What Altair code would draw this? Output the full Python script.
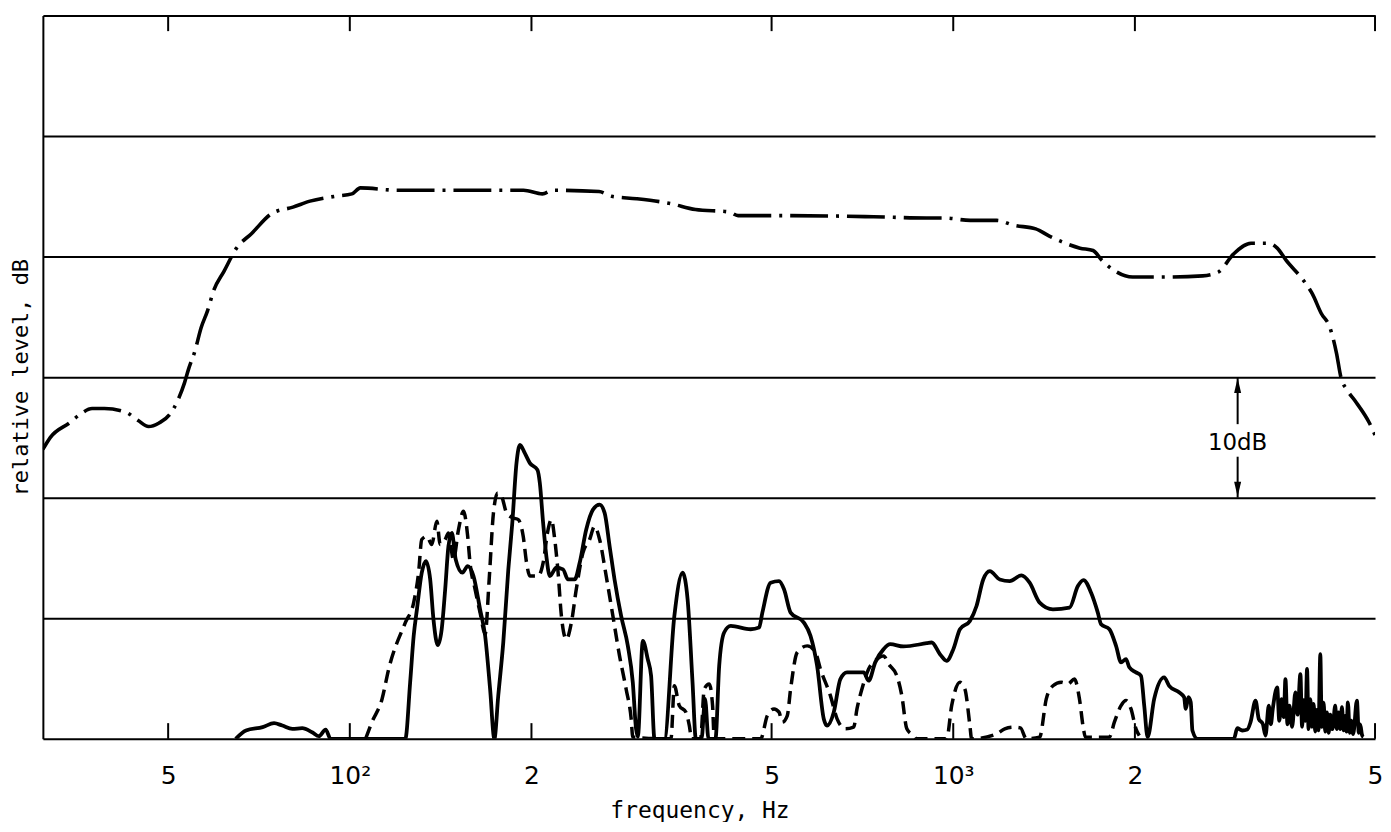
import altair as alt
import pandas as pd

# ---------------- axis definitions ----------------
tick_values = [50, 100, 200, 500, 1000, 2000, 5000]
tick_labels = ["5", "10²", "2", "5", "10³", "2", "5"]
grid_levels = [10, 20, 30, 40, 50, 60]

# ---------------- dash-dot curve (upper spectrum) ----------------
upper_freq = [31, 31.9, 34.3, 35.7, 37.4, 39.2, 42.5, 44.6, 46.4, 48.3,
              50.3, 51.9, 53.2, 54.0, 55.4, 56.7, 58.1, 59.5, 61.9, 64.9,
              68.7, 74.4, 80.5, 85.9, 94.5, 100.8, 104.1, 120.2, 152.7, 194,
              208.5, 217, 258.8, 271.6, 298.7, 339.6, 373.9, 425.3, 439.9, 528.4,
              738, 902.5, 965.6, 1067, 1180, 1260, 1370, 1443, 1517, 1622,
              1705, 1763, 1854, 1983, 2192, 2591, 2747, 2913, 3115, 3331,
              3443, 3560, 3808, 3937, 4071, 4210, 4316, 4389, 4500, 4654,
              4894, 5000]
upper_db = [24.0, 25.0, 26.2, 26.9, 27.4, 27.4, 27.1, 26.4, 25.9, 26.2,
            26.9, 28.1, 29.5, 30.6, 32.2, 34.1, 35.5, 37.2, 38.8, 40.7,
            41.9, 43.6, 44.1, 44.6, 45.0, 45.2, 45.7, 45.5, 45.5, 45.5,
            45.2, 45.5, 45.4, 45.0, 44.8, 44.4, 43.9, 43.7, 43.4, 43.4,
            43.3, 43.2, 43.2, 43.0, 43.0, 42.6, 42.3, 41.7, 41.2, 40.7,
            40.5, 39.7, 38.8, 38.3, 38.3, 38.4, 38.7, 40.2, 41.1, 41.1,
            40.7, 39.7, 38.0, 36.9, 35.3, 34.1, 32.0, 30.0, 28.9, 27.9,
            26.2, 25.2]

# ---------------- solid curve ----------------
solid_freq = [64.7, 67.3, 71.7, 74.9, 77.3, 80.3, 83.4, 86.6, 88.9, 91.2,
              92.9, 123.6, 125.9, 127.6, 129.2, 131.6, 133.7, 135.9, 137.6, 139.9,
              142.0, 143.9, 145.7, 147.6, 149.8, 153.7, 156.8, 160.3, 164.4, 167.6,
              170.8, 173.6, 176.2, 179.6, 183.1, 185.9, 188.9, 191.4, 195.0, 198.8,
              204.6, 206.5, 209.1, 211.7, 214.5, 219.9, 225.6, 229.9, 235.9, 240.4,
              246.5, 252.9, 259.4, 264.4, 269.5, 274.6, 281.6, 288.9, 294.4, 298.1,
              300.1, 305.9, 311.7, 315.7, 319.8, 332.1, 345.0, 356.0, 362.9, 369.8,
              374.5, 382.7, 387.9, 393.0, 403.6, 409.4, 417.2, 427.9, 461.6, 476.7,
              482.7, 498.2, 514.4, 524.3, 537.6, 565.6, 580.0, 594.8, 610.2, 617.8,
              633.9, 650.0, 666.8, 710.4, 724.1, 742.5, 766.7, 786.2, 827.1, 903.7,
              920.9, 950.6, 975.2, 1000.5, 1025.9, 1065.6, 1092.9, 1121.2, 1149.7, 1194.2,
              1240.5, 1296.9, 1338.4, 1390.5, 1463.1, 1558.4, 1609.0, 1643.5, 1692.3, 1736.1,
              1757.9, 1814.6, 1861.1, 1897.0, 1933.2, 1957.9, 2008.1, 2046.9, 2072.5, 2099.4,
              2152.8, 2236.2, 2279.3, 2367.3, 2413.0, 2428.5, 2453.3, 2474.9, 2490.9, 2538.9,
              2917.8, 2955.6, 3012.7, 3070.8, 3109.2, 3169.2, 3208.9, 3258.1, 3292.0, 3333.3,
              3360, 3384.5, 3441.8, 3470, 3500, 3530, 3552.1, 3580, 3606.5, 3644.1,
              3689.7, 3720, 3760.9, 3785, 3808.0, 3835, 3857.4, 3880, 3906.6, 3930,
              3955.5, 3980, 4006.8, 4030, 4057.8, 4080, 4108.6, 4135, 4161.9, 4190,
              4214.9, 4250, 4295.4, 4320, 4350.0, 4380, 4406.6, 4435, 4461.8, 4485,
              4508.3, 4540, 4565.6, 4600, 4665.6, 4700, 4724.0, 4760, 4784.1]
solid_db = [0, 0.69, 0.97, 1.30, 1.10, 0.83, 0.88, 0.55, 0.22, 0.77,
            0, 0, 4.71, 8.54, 10.74, 13.78, 14.74, 13.22, 9.92, 7.77,
            9.09, 12.40, 15.98, 17.08, 14.88, 13.78, 14.32, 13.50, 10.74, 8.54,
            4.13, 0, 3.58, 7.99, 14.05, 17.91, 22.87, 24.38, 23.69, 22.87,
            22.31, 21.21, 17.91, 15.15, 13.50, 14.19, 14.05, 13.22, 13.22, 14.60,
            17.36, 19.01, 19.42, 18.74, 15.98, 13.22, 10.19, 7.71, 4.69, 0.83,
            0.17, 8.12, 6.61, 5.23, 0, 0, 10.19, 13.78, 11.57, 4.69,
            0, 0, 3.31, 0, 0, 6.06, 8.82, 9.36, 9.09, 9.23,
            10.47, 12.95, 13.08, 12.40, 10.47, 9.64, 8.54, 6.06, 1.65, 1.10,
            2.21, 4.96, 5.51, 5.51, 4.82, 6.34, 7.44, 7.85, 7.66, 7.93,
            7.99, 7.02, 6.47, 7.44, 9.09, 9.78, 11.02, 13.22, 13.91, 13.22,
            13.08, 13.55, 12.95, 11.30, 10.74, 10.88, 12.67, 13.17, 12.12, 10.47,
            9.50, 9.09, 7.71, 6.34, 6.61, 5.93, 5.51, 5.23, 2.75, 0.14,
            3.31, 5.10, 4.40, 3.86, 3.45, 2.48, 3.45, 3.03, 0.69, 0,
            0, 0.88, 0.69, 0.77, 1.38, 3.17, 1.65, 1.24, 0.27, 2.75,
            1.2, 2.48, 4.27, 1.5, 3.3, 1.8, 4.96, 1.2, 2.75, 1.0,
            3.86, 2.0, 5.37, 1.0, 3.2, 1.5, 5.79, 0.8, 3.3, 1.0,
            2.9, 0.6, 2.4, 0.7, 7.02, 1.0, 3.0, 0.6, 2.2, 0.5,
            2.0, 0.8, 2.75, 0.8, 2.2, 0.8, 2.62, 0.7, 1.9, 0.6,
            3.03, 0.5, 1.5, 0.4, 3.17, 0.5, 1.2, 0.3, 0.17]

# ---------------- dashed curve ----------------
dashed_freq = [106.2, 108.8, 113.1, 116.0, 123.6, 127.6, 130.0, 131.6, 134.2, 136.7,
               139.4, 141.2, 143.9, 145.7, 148.5, 151.4, 154.3, 156.8, 158.2, 161.3,
               164.4, 167.6, 170.2, 173.0, 175.8, 178.5, 181.9, 186.6, 190.2, 193.8,
               196.3, 198.8, 205.2, 209.1, 213.1, 215.8, 218.6, 221.4, 224.2, 228.5,
               232.9, 237.3, 243.4, 249.7, 254.5, 259.4, 266.0, 272.9, 279.9, 287.0,
               292.6, 294.4, 340.6, 345.0, 351.6, 360.6, 365.3, 368.5, 381.3, 386.7,
               394.1, 399.2, 401.7, 479.6, 492.0, 504.7, 514.4, 520.8, 530.9, 537.6,
               551.4, 572.8, 591.0, 602.4, 625.8, 642.0, 662.5, 683.9, 692.6, 705.8,
               724.1, 747.3, 766.7, 781.3, 806.4, 821.8, 837.7, 859.2, 870.1, 975.2,
               994.0, 1025.9, 1045.5, 1065.6, 1072.5, 1179.4, 1217.2, 1256.6, 1292.1, 1321.8,
               1390.5, 1426.2, 1463.1, 1510.1, 1548.8, 1588.2, 1618.7, 1643.5, 1656.0, 1814.4,
               1849.3, 1897.0, 1933.2, 1970.6, 2008.1, 2033.7]
dashed_db = [0, 1.38, 3.31, 5.79, 9.64, 11.30, 13.78, 16.53, 16.80, 16.12,
             18.04, 16.12, 16.53, 17.08, 14.88, 17.36, 18.87, 16.80, 14.60, 12.40,
             10.47, 8.68, 13.22, 18.74, 20.39, 20.11, 18.74, 18.32, 18.18, 16.80,
             14.60, 13.50, 13.50, 14.60, 17.36, 18.18, 16.53, 13.78, 10.19, 8.26,
             9.64, 12.40, 15.43, 16.53, 17.63, 16.53, 13.50, 10.19, 6.88, 4.13,
             1.65, 0.14, 0, 4.40, 2.75, 2.21, 1.10, 0, 0, 4.13,
             4.55, 2.75, 0, 0, 1.93, 2.48, 2.21, 1.38, 1.93, 4.13,
             7.17, 7.71, 7.17, 5.79, 3.58, 1.65, 0.83, 0.97, 2.48, 4.13,
             5.79, 6.61, 6.88, 6.20, 5.23, 3.58, 0.83, 0.27, 0, 0,
             2.75, 4.69, 4.13, 1.10, 0, 0.41, 0.83, 0.97, 0.91, 0,
             0.14, 3.31, 4.40, 4.69, 4.55, 4.96, 3.31, 0.83, 0.14, 0.14,
             1.38, 2.75, 3.17, 2.48, 0.83, 0.27]

# ---------------- 10 dB scale marker ----------------
marker_freq = 2960
marker_top = [30.0, 26.1]
marker_bottom = [23.4, 20.0]
marker_heads_db = [29.3, 20.7]
marker_label_db = 24.5
marker_label = "10dB"


def frame(freq, db, name):
    assert len(freq) == len(db), (name, len(freq), len(db))
    return pd.DataFrame({"f": freq, "db": db, "i": list(range(len(freq)))})


FONT = "DejaVu Sans"
TITLE_FONT = "DejaVu Sans Mono"
x_scale = alt.Scale(type="log", domain=[31, 5000], nice=False)
y_scale = alt.Scale(domain=[0, 60], nice=False, zero=False)

label_expr = " : ".join(
    f"datum.value == {v} ? '{t}'" for v, t in zip(tick_values, tick_labels)
) + " : ''"

x_axis = alt.Axis(values=tick_values, labelExpr=label_expr, ticks=False, tickSize=0,
                  grid=False, domainColor="black", domainWidth=2,
                  labelFont=FONT, labelFontSize=25, labelColor="black", labelPadding=25,
                  labelFlush=False, labelOverlap=False,
                  title="frequency, Hz", titleFont=TITLE_FONT, titleFontSize=23,
                  titleFontWeight="normal", titleColor="black",
                  titleX=659, titleY=72, titleAlign="center", titleBaseline="middle")
y_axis = alt.Axis(values=grid_levels, labels=False, ticks=False, tickSize=0,
                  grid=True, gridColor="black", gridWidth=2, gridOpacity=1,
                  domainColor="black", domainWidth=2,
                  title="relative level, dB", titleFont=TITLE_FONT, titleFontSize=22,
                  titleFontWeight="normal", titleColor="black",
                  titleX=-22, titleY=363, titleAngle=270, titleAlign="center",
                  titleBaseline="middle")

X = alt.X("f:Q", scale=x_scale, axis=x_axis)


def curve(df, width, dash=None):
    kw = dict(color="black", strokeWidth=width, interpolate="monotone", clip=True,
              strokeCap="butt")
    if dash is not None:
        kw["strokeDash"] = dash
    return alt.Chart(df).mark_line(**kw).encode(
        x=X, y=alt.Y("db:Q", scale=y_scale, axis=y_axis), order="i:Q")


upper = curve(frame(upper_freq, upper_db, "upper"), 3.6, [38, 8, 3, 8])
solid = curve(frame(solid_freq, solid_db, "solid"), 3.8)
dashed = curve(frame(dashed_freq, dashed_db, "dashed"), 3.5, [13, 7])

tick_df = pd.DataFrame({
    "f": tick_values * 2,
    "y0": [0] * len(tick_values) + [60] * len(tick_values),
    "y1": [1.3] * len(tick_values) + [58.7] * len(tick_values),
})
ticks = alt.Chart(tick_df).mark_rule(color="black", strokeWidth=2).encode(
    x=X, y=alt.Y("y0:Q", scale=y_scale, axis=y_axis), y2="y1:Q")

arrow_df = pd.DataFrame({
    "f": [marker_freq, marker_freq],
    "y0": [marker_top[0], marker_bottom[0]],
    "y1": [marker_top[1], marker_bottom[1]],
})
arrow = alt.Chart(arrow_df).mark_rule(color="black", strokeWidth=2).encode(
    x=X, y=alt.Y("y0:Q", scale=y_scale, axis=y_axis), y2="y1:Q")

head_df = pd.DataFrame({
    "f": [marker_freq, marker_freq],
    "db": marker_heads_db,
    "shape": ["M0,-1L0.47,1L-0.47,1Z", "M0,1L0.47,-1L-0.47,-1Z"],
})
heads = alt.Chart(head_df).mark_point(filled=True, color="black", size=225, opacity=1).encode(
    x=X, y=alt.Y("db:Q", scale=y_scale, axis=y_axis),
    shape=alt.Shape("shape:N", scale=None))

label_df = pd.DataFrame({"f": [marker_freq], "db": [marker_label_db], "t": [marker_label]})
label = alt.Chart(label_df).mark_text(font=FONT, fontSize=23, color="black",
                                      align="center", baseline="middle").encode(
    x=X, y=alt.Y("db:Q", scale=y_scale, axis=y_axis), text="t:N")

chart = alt.layer(ticks, upper, solid, dashed, arrow, heads, label).properties(
    width=1337, height=726,
    padding={"left": 35, "top": 6, "right": 8, "bottom": 82},
    autosize=alt.AutoSizeParams(type="none"),
    background="white",
).configure_view(stroke=None)

chart.save("out.html", embed_options={"renderer": "svg", "actions": False})
